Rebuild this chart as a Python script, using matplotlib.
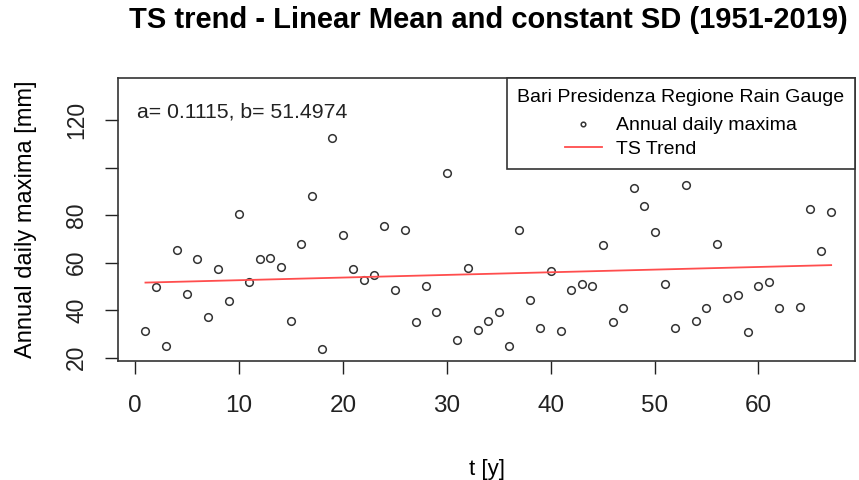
import numpy as np
import matplotlib.pyplot as plt

plt.rcParams['font.family'] = ['Liberation Sans', 'DejaVu Sans']

# annual daily maxima (mm) against time index t (year 63 missing)
t = [1, 2, 3, 4, 5, 6, 7, 8, 9, 10, 11, 12, 13, 14, 15, 16, 17, 18, 19, 20,
     21, 22, 23, 24, 25, 26, 27, 28, 29, 30, 31, 32, 33, 34, 35, 36, 37, 38, 39, 40,
     41, 42, 43, 44, 45, 46, 47, 48, 49, 50, 51, 52, 53, 54, 55, 56, 57, 58, 59, 60,
     61, 62, 64, 65, 66, 67]
maxima = [31.2, 49.6, 24.9, 65.5, 46.9, 61.7, 37.0, 57.3, 43.7, 80.5,
          52.0, 61.7, 62.1, 58.3, 35.6, 68.0, 88.1, 23.5, 112.4, 71.7,
          57.3, 52.7, 54.7, 75.6, 48.4, 73.8, 35.0, 50.3, 39.4, 97.6,
          27.3, 57.9, 31.8, 35.6, 39.4, 24.9, 73.8, 44.4, 32.5, 56.6,
          31.2, 48.4, 50.9, 50.3, 67.3, 35.0, 40.8, 91.3, 83.7, 73.1,
          50.9, 32.5, 92.6, 35.6, 40.8, 67.9, 45.1, 46.4, 30.7, 50.3,
          52.0, 40.8, 41.5, 82.5, 64.8, 81.2]

a = 0.1115
b = 51.4974

xticks = [0, 10, 20, 30, 40, 50, 60]
yticks = [20, 40, 60, 80, 100, 120]
ytick_labels = ['20', '40', '60', '80', '', '120']

fig = plt.figure(figsize=(8.59, 4.8), dpi=100)
ax = fig.add_axes([0.1374, 0.248, 0.858, 0.5896])

tt = np.array(t)
ax.plot(tt, maxima, 'o', mfc='none', mec='#333333', ms=5.5, mew=1.1,
        label='Annual daily maxima')
ax.plot([tt[0], tt[-1]], [a * tt[0] + b, a * tt[-1] + b], color='#ff4d4d',
        lw=1.3, label='TS Trend')

ax.set_xlim(-1.64, 69.3)
ax.set_ylim(18.6, 137.8)
ax.set_xticks(xticks)
ax.set_yticks(yticks)
ax.set_yticklabels(ytick_labels, rotation=90, va='center')
ax.tick_params(direction='out', length=9.5, width=1, colors='#222222')
ax.tick_params(axis='x', pad=15, labelsize=17.5)
ax.tick_params(axis='y', pad=12, labelsize=16.5)
for s in ax.spines.values():
    s.set_linewidth(1.2)
    s.set_color('#333333')

ax.set_xlabel('t [y]', fontsize=16, labelpad=30)
ax.set_ylabel('Annual daily maxima [mm]', fontsize=17, labelpad=20)
fig.text(0.568, 1 - 20 / 480, 'TS trend - Linear Mean and constant SD (1951-2019)',
         fontsize=21, fontweight='bold', ha='center', va='center')

ax.text(0.026, 0.88, 'a= 0.1115, b= 51.4974', transform=ax.transAxes,
        fontsize=15.3, color='#222222', va='center')

leg = ax.legend(title='Bari Presidenza Regione Rain Gauge', loc='upper right',
                fontsize=14, title_fontsize=14, frameon=True, fancybox=False,
                borderaxespad=0, handlelength=1.9, handletextpad=0.75,
                borderpad=0.55, labelspacing=0.3, markerscale=0.6)
leg._legend_box.sep = 8  # extra gap under the legend title
leg.get_frame().set_edgecolor('#333333')
leg.get_frame().set_linewidth(1.2)
leg.get_frame().set_alpha(1)

fig.savefig('out.png', dpi=100)
